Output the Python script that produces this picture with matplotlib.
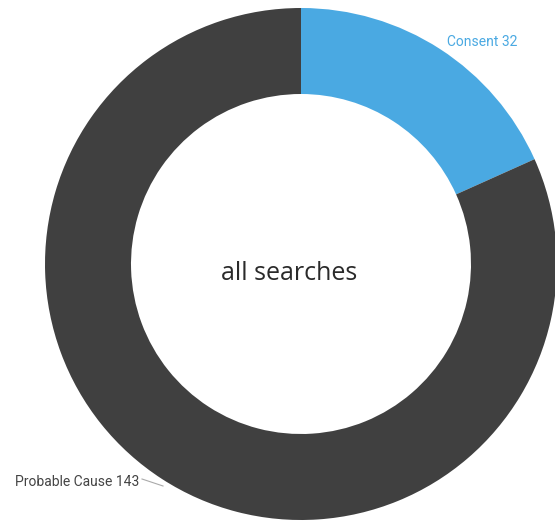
import matplotlib
matplotlib.use("Agg")
import matplotlib.pyplot as plt

categories = ["Consent", "Probable Cause"]
values = [32, 143]
colors = ["#4aa9e2", "#404040"]
center_text = "all searches"

W, H = 555, 525
fig = plt.figure(figsize=(W / 100, H / 100), dpi=100)
ax = fig.add_axes([0, 0, 1, 1])

cx, cy = 301, H - 264
R = 256
wedges, _ = ax.pie(values, colors=colors, startangle=90, counterclock=False,
                   radius=R, center=(cx, cy), frame=True,
                   wedgeprops=dict(width=R - 170, linewidth=0))
ax.set_xlim(0, W)
ax.set_ylim(0, H)
ax.set_aspect("equal")
ax.axis("off")

ax.text(289, H - 273, center_text, ha="center", va="center", fontsize=18,
        family="Open Sans", color="#2a2a2a")

ax.text(447, H - 42, f"{categories[0]} {values[0]}", ha="left", va="center",
        fontsize=10, family="Roboto", color="#4aa9e2")
ax.text(15, H - 482, f"{categories[1]} {values[1]}", ha="left", va="center",
        fontsize=10, family="Roboto", color="#444444")
ax.plot([142, 163], [H - 479, H - 486], color="#aaaaaa", lw=0.8)

fig.savefig("out.png", dpi=100)
